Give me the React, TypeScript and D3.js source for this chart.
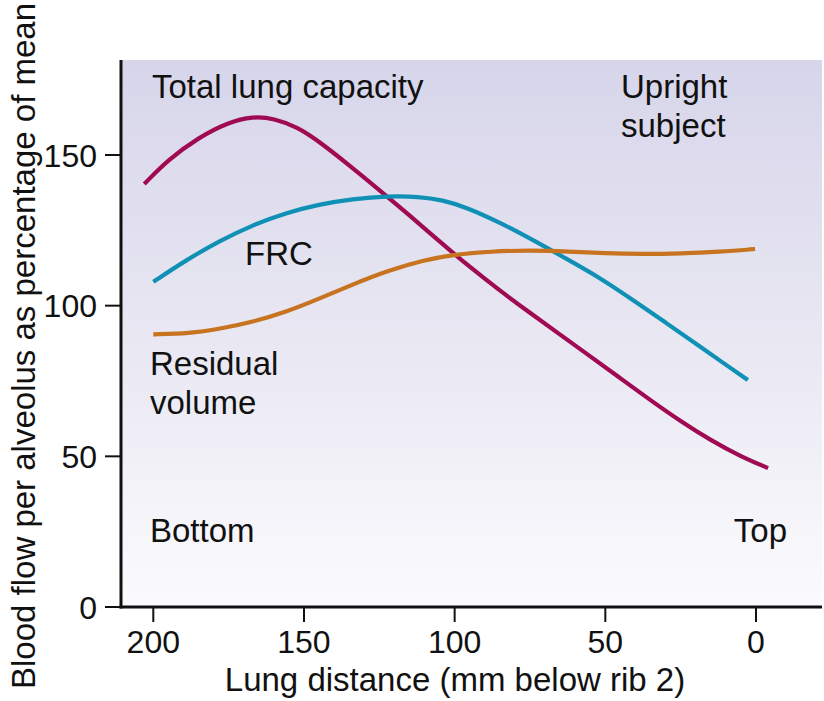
import React from "react";
import * as d3 from "d3";

const xTicks = [200, 150, 100, 50, 0];
const yTicks = [0, 50, 100, 150];

const tlcX = [203, 195, 185, 175, 167, 160, 152, 145, 135, 125, 115, 105, 95, 85, 75, 65, 55, 45, 35, 25, 15, 5, -4];
const tlcY = [140.4, 148.5, 155.8, 160.9, 162.8, 162.2, 159.2, 154.5, 146.6, 138.4, 130, 121.3, 112.8, 105, 97.6, 90.4, 83.2, 75.9, 68.6, 61.6, 55.3, 49.9, 46.1];

const frcX = [200, 189, 178, 167, 156, 145, 134, 122, 112, 104, 96, 85, 74, 63, 52, 41, 30, 19, 10, 2.7];
const frcY = [107.9, 115.2, 121.5, 126.8, 130.8, 133.6, 135.4, 136.4, 136.2, 135.1, 132.6, 127.6, 121.8, 115.6, 109.4, 102, 94.4, 86.7, 80.4, 75.3];

const rvX = [200, 188, 178, 167, 156, 145, 134, 122, 110, 100, 88, 75, 62, 50, 38, 25, 12, 0.3];
const rvY = [90.5, 90.8, 92.3, 94.6, 97.9, 102.3, 107, 111.7, 115.2, 117, 118, 118.4, 118, 117.4, 117.1, 117.3, 117.9, 118.8];

const seriesNames = ["Total lung capacity", "FRC", "Residual volume"];
const seriesColors = ["#9f0a52", "#1190b6", "#c7731f"];

const W = 824;
const H = 701;
const plotLeft = 121;
const plotRight = 822;
const plotTop = 60;
const plotBottom = 607;

export default function App() {
  const x = d3.scaleLinear().domain([200, 0]).range([153.3, 756]);
  const y = d3.scaleLinear().domain([0, 150]).range([607, 155]);

  const makeLine = (xs: number[], ys: number[]) => {
    const pts = xs.map((v, i) => [v, ys[i]] as [number, number]);
    return d3
      .line<[number, number]>()
      .x((d) => x(d[0]))
      .y((d) => y(d[1]))
      .curve(d3.curveBasis)(pts) as string;
  };

  const lines = [
    makeLine(tlcX, tlcY),
    makeLine(frcX, frcY),
    makeLine(rvX, rvY),
  ];

  const font = "'Liberation Sans', Arial, Helvetica, sans-serif";

  return (
    <svg
      width={W}
      height={H}
      style={{ position: "absolute", left: 0, top: 0, background: "#fff" }}
      fontFamily={font}
    >
      <defs>
        <linearGradient id="bg" x1="0" y1="0" x2="0" y2="1">
          <stop offset="0" stopColor="#d7d5ea" />
          <stop offset="0.5" stopColor="#e8e7f2" />
          <stop offset="1" stopColor="#fbfbfe" />
        </linearGradient>
      </defs>
      <rect
        x={plotLeft}
        y={plotTop}
        width={plotRight - plotLeft}
        height={plotBottom - plotTop}
        fill="url(#bg)"
      />
      {lines.map((d, i) => (
        <path
          key={seriesNames[i]}
          d={d}
          fill="none"
          stroke={seriesColors[i]}
          strokeWidth={4.2}
          strokeLinecap="butt"
        />
      ))}
      <line x1={plotLeft} x2={plotLeft} y1={plotTop} y2={plotBottom + 1.5} stroke="#111" strokeWidth={3} />
      <line x1={plotLeft - 1.5} x2={plotRight} y1={plotBottom} y2={plotBottom} stroke="#111" strokeWidth={3} />
      {yTicks.map((t) => (
        <g key={"y" + t}>
          <line x1={105} x2={plotLeft} y1={y(t)} y2={y(t)} stroke="#111" strokeWidth={2} />
          <text x={97} y={y(t)} dy="0.36em" textAnchor="end" fontSize={32} fill="#111">
            {t}
          </text>
        </g>
      ))}
      {xTicks.map((t) => (
        <g key={"x" + t}>
          <line x1={x(t)} x2={x(t)} y1={plotBottom} y2={622} stroke="#111" strokeWidth={2} />
          <text x={x(t)} y={653} textAnchor="middle" fontSize={32} fill="#111">
            {t}
          </text>
        </g>
      ))}
      <text x={455} y={691} textAnchor="middle" fontSize={33} fill="#111">
        Lung distance (mm below rib 2)
      </text>
      <text
        transform={`translate(35,346) rotate(-90)`}
        textAnchor="middle"
        fontSize={33}
        fill="#111"
      >
        Blood flow per alveolus as percentage of mean
      </text>
      <text x={152} y={98} fontSize={33} fill="#111">Total lung capacity</text>
      <text x={621} y={98} fontSize={33} fill="#111">Upright</text>
      <text x={621} y={137} fontSize={33} fill="#111">subject</text>
      <text x={245} y={265} fontSize={33} fill="#111">FRC</text>
      <text x={150} y={375} fontSize={33} fill="#111">Residual</text>
      <text x={150} y={414} fontSize={33} fill="#111">volume</text>
      <text x={150} y={542} fontSize={33} fill="#111">Bottom</text>
      <text x={787} y={542} textAnchor="end" fontSize={33} fill="#111">Top</text>
    </svg>
  );
}
